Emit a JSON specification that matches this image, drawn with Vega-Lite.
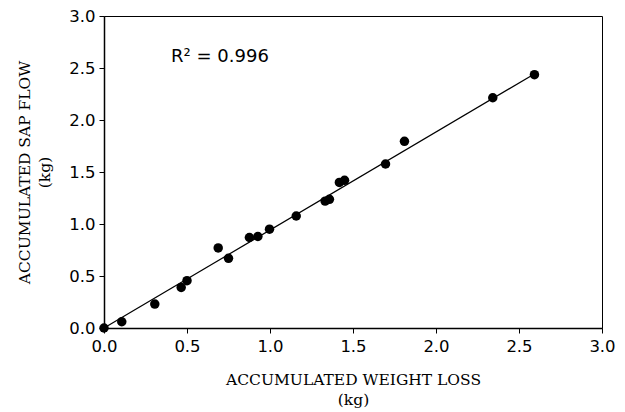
{
  "$schema": "https://vega.github.io/schema/vega-lite/v6.json",
  "width": 498,
  "height": 312,
  "autosize": {"type": "none"},
  "padding": {"left": 104, "top": 16, "right": 23, "bottom": 84},
  "background": "white",
  "config": {
    "view": {"stroke": "black", "strokeWidth": 1},
    "axis": {
      "domainColor": "black",
      "domainWidth": 1.5,
      "tickColor": "black",
      "tickSize": 5,
      "tickWidth": 1,
      "grid": false,
      "labelFlush": false,
      "labelFont": "DejaVu Sans",
      "labelFontSize": 16.5,
      "labelColor": "black",
      "titleFont": "DejaVu Serif",
      "titleFontSize": 15.5,
      "titleFontWeight": "normal",
      "titleColor": "black",
      "titleLineHeight": 20
    }
  },
  "datasets": {
    "points": [
      {"weight_loss": 0.0, "sap_flow": 0.0},
      {"weight_loss": 0.107, "sap_flow": 0.06},
      {"weight_loss": 0.306, "sap_flow": 0.23},
      {"weight_loss": 0.465, "sap_flow": 0.39},
      {"weight_loss": 0.50, "sap_flow": 0.455},
      {"weight_loss": 0.688, "sap_flow": 0.77},
      {"weight_loss": 0.75, "sap_flow": 0.67},
      {"weight_loss": 0.876, "sap_flow": 0.87},
      {"weight_loss": 0.927, "sap_flow": 0.88},
      {"weight_loss": 0.997, "sap_flow": 0.95},
      {"weight_loss": 1.158, "sap_flow": 1.077},
      {"weight_loss": 1.332, "sap_flow": 1.22},
      {"weight_loss": 1.358, "sap_flow": 1.237},
      {"weight_loss": 1.418, "sap_flow": 1.40},
      {"weight_loss": 1.449, "sap_flow": 1.42},
      {"weight_loss": 1.696, "sap_flow": 1.577},
      {"weight_loss": 1.81, "sap_flow": 1.795},
      {"weight_loss": 2.342, "sap_flow": 2.214},
      {"weight_loss": 2.593, "sap_flow": 2.436}
    ],
    "fit": [
      {"weight_loss": 0.0, "sap_flow": 0.0},
      {"weight_loss": 2.6, "sap_flow": 2.45}
    ],
    "note": [
      {"weight_loss": 0.404, "sap_flow": 2.558, "label": "R² = 0.996"}
    ]
  },
  "layer": [
    {
      "data": {"name": "fit"},
      "mark": {"type": "line", "color": "black", "strokeWidth": 1.2},
      "encoding": {
        "x": {
          "field": "weight_loss", "type": "quantitative",
          "scale": {"domain": [0, 3], "nice": false, "zero": true},
          "axis": {
            "values": [0, 0.5, 1, 1.5, 2, 2.5, 3],
            "format": ".1f",
            "labelPadding": 5,
            "titlePadding": 18,
            "title": ["ACCUMULATED WEIGHT LOSS", "(kg)"]
          }
        },
        "y": {
          "field": "sap_flow", "type": "quantitative",
          "scale": {"domain": [0, 3], "nice": false, "zero": true},
          "axis": {
            "values": [0, 0.5, 1, 1.5, 2, 2.5, 3],
            "format": ".1f",
            "labelPadding": 4,
            "titlePadding": 16,
            "title": ["ACCUMULATED SAP FLOW", "(kg)"]
          }
        }
      }
    },
    {
      "data": {"name": "points"},
      "mark": {"type": "point", "filled": true, "color": "black", "opacity": 1, "size": 90},
      "encoding": {
        "x": {"field": "weight_loss", "type": "quantitative"},
        "y": {"field": "sap_flow", "type": "quantitative"}
      }
    },
    {
      "data": {"name": "note"},
      "mark": {"type": "text", "align": "left", "baseline": "alphabetic", "font": "DejaVu Sans", "fontSize": 18, "color": "black"},
      "encoding": {
        "x": {"field": "weight_loss", "type": "quantitative"},
        "y": {"field": "sap_flow", "type": "quantitative"},
        "text": {"field": "label"}
      }
    }
  ]
}
